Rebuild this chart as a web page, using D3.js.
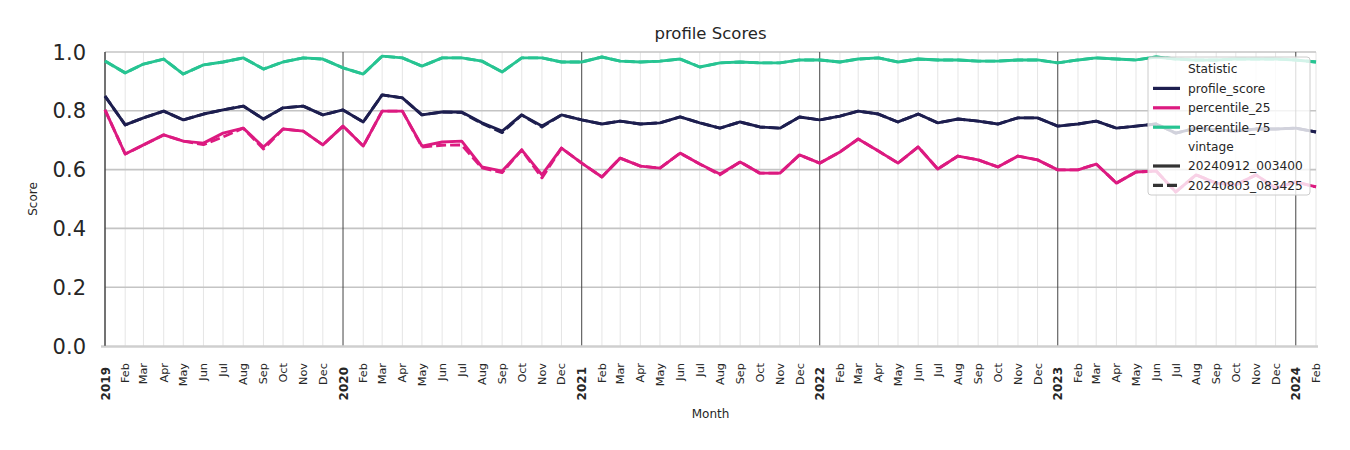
<!DOCTYPE html>
<html>
<head>
<meta charset="utf-8">
<script src="https://cdn.jsdelivr.net/npm/d3@7"></script>
<style>
  html, body { margin: 0; padding: 0; background: #fff; }
  svg { display: block; font-family: "DejaVu Sans", sans-serif; }
</style>
</head>
<body>
<svg id="chart" width="1350" height="450"></svg>
<script>
const months = [
  "2019-01","2019-02","2019-03","2019-04","2019-05","2019-06","2019-07","2019-08","2019-09","2019-10","2019-11","2019-12",
  "2020-01","2020-02","2020-03","2020-04","2020-05","2020-06","2020-07","2020-08","2020-09","2020-10","2020-11","2020-12",
  "2021-01","2021-02","2021-03","2021-04","2021-05","2021-06","2021-07","2021-08","2021-09","2021-10","2021-11","2021-12",
  "2022-01","2022-02","2022-03","2022-04","2022-05","2022-06","2022-07","2022-08","2022-09","2022-10","2022-11","2022-12",
  "2023-01","2023-02","2023-03","2023-04","2023-05","2023-06","2023-07","2023-08","2023-09","2023-10","2023-11","2023-12",
  "2024-01","2024-02"
];

// vintage 20240912_003400 (solid)
const profileScore = [
  0.850,0.752,0.776,0.799,0.769,0.789,0.803,0.816,0.772,0.810,0.816,0.786,
  0.803,0.762,0.854,0.844,0.786,0.796,0.796,0.759,0.731,0.786,0.748,0.786,
  0.769,0.755,0.765,0.755,0.759,0.779,0.759,0.741,0.762,0.745,0.741,0.779,
  0.769,0.782,0.799,0.789,0.762,0.789,0.759,0.772,0.765,0.755,0.776,0.776,
  0.748,0.755,0.765,0.741,0.748,0.755,0.724,0.741,0.735,0.731,0.738,0.738,
  0.741,0.728
];
const pct25 = [
  0.803,0.653,0.684,0.718,0.697,0.690,0.724,0.741,0.677,0.738,0.731,0.684,
  0.748,0.680,0.799,0.799,0.680,0.694,0.697,0.609,0.595,0.667,0.582,0.673,
  0.622,0.575,0.639,0.612,0.605,0.656,0.619,0.585,0.626,0.588,0.588,0.650,
  0.622,0.660,0.704,0.663,0.622,0.677,0.602,0.646,0.633,0.609,0.646,0.633,
  0.599,0.599,0.619,0.554,0.592,0.595,0.524,0.582,0.554,0.548,0.582,0.537,
  0.558,0.541
];
const pct75 = [
  0.969,0.929,0.959,0.976,0.925,0.956,0.966,0.980,0.942,0.966,0.980,0.976,
  0.946,0.925,0.986,0.980,0.952,0.980,0.980,0.969,0.932,0.980,0.980,0.966,
  0.966,0.983,0.969,0.966,0.969,0.976,0.949,0.963,0.966,0.963,0.963,0.973,
  0.973,0.966,0.976,0.980,0.966,0.976,0.973,0.973,0.969,0.969,0.973,0.973,
  0.963,0.973,0.980,0.976,0.973,0.983,0.976,0.973,0.973,0.976,0.976,0.976,
  0.973,0.966
];

// vintage 20240803_083425 (dashed)
const profileScoreOld = [
  0.850,0.752,0.776,0.799,0.769,0.789,0.803,0.816,0.772,0.810,0.816,0.786,
  0.803,0.762,0.854,0.844,0.786,0.796,0.794,0.757,0.726,0.786,0.745,0.786,
  0.769,0.755,0.765,0.755,0.759,0.779,0.759,0.741,0.762,0.745,0.741,0.779,
  0.769,0.782,0.799,0.789,0.762,0.789,0.759,0.772,0.765,0.755,0.776,0.776,
  0.748,0.755,0.765,0.741,0.748,0.755,0.724,0.741,0.735,0.731,0.738,0.738,
  0.741,0.728
];
const pct25Old = [
  0.803,0.653,0.684,0.718,0.697,0.685,0.711,0.741,0.670,0.738,0.731,0.684,
  0.748,0.680,0.799,0.799,0.677,0.683,0.684,0.606,0.590,0.667,0.572,0.673,
  0.622,0.575,0.639,0.612,0.605,0.656,0.619,0.582,0.626,0.588,0.588,0.650,
  0.622,0.660,0.704,0.663,0.622,0.677,0.602,0.646,0.633,0.609,0.646,0.633,
  0.599,0.599,0.619,0.554,0.592,0.595,0.524,0.582,0.554,0.548,0.582,0.537,
  0.558,0.541
];
const pct75Old = pct75.slice();

const yTicks = [0.0, 0.2, 0.4, 0.6, 0.8, 1.0];
const monthNames = ["Jan","Feb","Mar","Apr","May","Jun","Jul","Aug","Sep","Oct","Nov","Dec"];

const colors = { profile_score: "#1d1e4f", percentile_25: "#dc1a80", percentile_75: "#27c492" };

const parse = d3.timeParse("%Y-%m");
const dates = months.map(parse);

const pLeft = 105, pRight = 1316, pTop = 52, pBottom = 346;
const x = d3.scaleTime().domain([dates[0], dates[dates.length - 1]]).range([pLeft, pRight]);
const y = d3.scaleLinear().domain([0, 1]).range([pBottom, pTop]);

const svg = d3.select("#chart");

// month gridlines
svg.append("g").selectAll("line").data(dates.filter(d => d.getMonth() !== 0)).join("line")
  .attr("x1", d => x(d)).attr("x2", d => x(d)).attr("y1", pTop).attr("y2", pBottom)
  .attr("stroke", "#dedede").attr("stroke-width", 0.8);

// horizontal gridlines
svg.append("g").selectAll("line").data(yTicks.filter(v => v > 0)).join("line")
  .attr("x1", pLeft).attr("x2", pRight).attr("y1", d => y(d)).attr("y2", d => y(d))
  .attr("stroke", "#c4c4c4").attr("stroke-width", 1.6);

// year lines
svg.append("g").selectAll("line").data(dates.filter(d => d.getMonth() === 0)).join("line")
  .attr("x1", d => x(d)).attr("x2", d => x(d)).attr("y1", pTop).attr("y2", pBottom)
  .attr("stroke", "#444").attr("stroke-width", 1);

// bottom spine (light)
svg.append("line").attr("x1", pLeft - 4).attr("x2", pRight + 2).attr("y1", pBottom + 0.5).attr("y2", pBottom + 0.5)
  .attr("stroke", "#cfcfcf").attr("stroke-width", 2.5);
// left spine
svg.append("line").attr("x1", pLeft).attr("x2", pLeft).attr("y1", pTop).attr("y2", pBottom)
  .attr("stroke", "#444").attr("stroke-width", 1);

// lines
const line = d3.line().x((d, i) => x(dates[i])).y(d => y(d));
const series = [
  { key: "profile_score", vals: profileScore, dash: null },
  { key: "percentile_25", vals: pct25, dash: null },
  { key: "percentile_75", vals: pct75, dash: null },
  { key: "profile_score", vals: profileScoreOld, dash: "10,4" },
  { key: "percentile_25", vals: pct25Old, dash: "10,4" },
  { key: "percentile_75", vals: pct75Old, dash: "10,4" }
];
svg.append("g").selectAll("path").data(series).join("path")
  .attr("d", d => line(d.vals))
  .attr("fill", "none")
  .attr("stroke", d => colors[d.key])
  .attr("stroke-width", 2.9)
  .attr("stroke-linejoin", "round")
  .attr("stroke-dasharray", d => d.dash);

// y tick labels
svg.append("g").selectAll("text").data(yTicks).join("text")
  .attr("x", 86).attr("y", d => y(d)).attr("dy", "0.36em")
  .attr("text-anchor", "end").attr("font-size", 21).attr("fill", "#262626")
  .text(d => d.toFixed(1));

// x tick labels
svg.append("g").selectAll("text").data(dates).join("text")
  .attr("transform", d => d.getMonth() === 0
      ? `translate(${x(d) + 4.5},${367}) rotate(-90)`
      : `translate(${x(d) + 4},${363}) rotate(-90)`)
  .attr("text-anchor", "end")
  .attr("font-size", d => d.getMonth() === 0 ? 12 : 11.3)
  .attr("font-weight", d => d.getMonth() === 0 ? "bold" : "normal")
  .attr("fill", "#262626")
  .text(d => d.getMonth() === 0 ? d.getFullYear() : monthNames[d.getMonth()]);

// axis titles
svg.append("text").attr("x", (pLeft + pRight) / 2).attr("y", 418).attr("text-anchor", "middle")
  .attr("font-size", 12).attr("fill", "#262626").text("Month");
svg.append("text").attr("transform", `translate(37,${(pTop + pBottom) / 2}) rotate(-90)`)
  .attr("text-anchor", "middle").attr("font-size", 12).attr("fill", "#262626").text("Score");
svg.append("text").attr("x", (pLeft + pRight) / 2).attr("y", 39).attr("text-anchor", "middle")
  .attr("font-size", 16.5).attr("fill", "#262626").text("profile Scores");

// legend
const lg = svg.append("g");
lg.append("rect").attr("x", 1148).attr("y", 57).attr("width", 162).attr("height", 138).attr("rx", 3)
  .attr("fill", "#fff").attr("fill-opacity", 0.8).attr("stroke", "#cccccc").attr("stroke-width", 1);
const legendItems = [
  { label: "Statistic", color: null, dash: null },
  { label: "profile_score", color: colors.profile_score, dash: null },
  { label: "percentile_25", color: colors.percentile_25, dash: null },
  { label: "percentile_75", color: colors.percentile_75, dash: null },
  { label: "vintage", color: null, dash: null },
  { label: "20240912_003400", color: "#333", dash: null },
  { label: "20240803_083425", color: "#333", dash: "10,4" }
];
const rowY = i => 69 + i * 19.4;
lg.selectAll("line").data(legendItems.filter(d => d.color)).join("line")
  .attr("x1", 1153).attr("x2", 1180)
  .attr("y1", d => rowY(legendItems.indexOf(d))).attr("y2", d => rowY(legendItems.indexOf(d)))
  .attr("stroke", d => d.color).attr("stroke-width", 3.2).attr("stroke-dasharray", d => d.dash);
lg.selectAll("text").data(legendItems).join("text")
  .attr("x", 1188).attr("y", (d, i) => rowY(i)).attr("dy", "0.36em")
  .attr("font-size", 12.2).attr("fill", "#262626").text(d => d.label);
</script>
</body>
</html>
